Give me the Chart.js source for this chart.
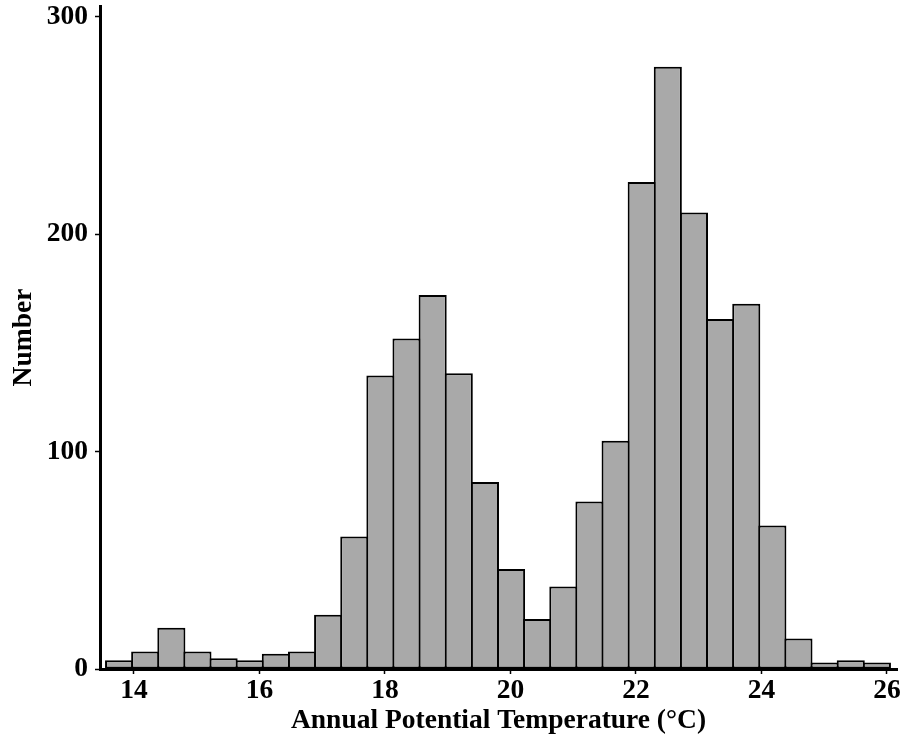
<!DOCTYPE html>
<html>
<head>
<meta charset="utf-8">
<script src="https://cdn.jsdelivr.net/npm/chart.js@4/dist/chart.umd.min.js"></script>
<style>
  html, body { margin: 0; padding: 0; background: #ffffff; }
  #wrap { width: 907px; height: 740px; }
</style>
</head>
<body>
<div id="wrap"><canvas id="chart" width="907" height="740"></canvas></div>
<script>
// Histogram bins: centre of each 0.416 °C wide bin
const binCenters = [
  13.764, 14.180, 14.597, 15.013, 15.430, 15.846, 16.262, 16.679, 17.095, 17.512,
  17.928, 18.344, 18.761, 19.177, 19.594, 20.010, 20.426, 20.843, 21.259, 21.676,
  22.092, 22.508, 22.925, 23.341, 23.758, 24.174, 24.590, 25.007, 25.423, 25.840
];

// Number of sites falling in each bin
const counts = [
  4, 8, 19, 8, 5, 4, 7, 8, 25, 61,
  135, 152, 172, 136, 86, 46, 23, 38, 77, 105,
  224, 277, 210, 161, 168, 66, 14, 3, 4, 3
];

const xTicks = [14, 16, 18, 20, 22, 24, 26];
const yTicks = [0, 100, 200, 300];

const FONT = { family: "'Liberation Serif', 'Times New Roman', serif", size: 27.5, weight: 'bold' };

const axisCommon = {
  grid: {
    display: true,
    drawOnChartArea: false,
    drawTicks: true,
    tickLength: 5,
    tickWidth: 1.5,
    tickColor: '#000000',
    offset: false
  },
  border: { display: true, color: '#000000', width: 3 }
};

new Chart(document.getElementById('chart'), {
  type: 'bar',
  data: {
    datasets: [{
      data: binCenters.map((x, i) => ({ x: x, y: counts[i] })),
      backgroundColor: '#a9a9a9',
      borderColor: '#000000',
      borderWidth: 2,
      borderSkipped: false,
      barPercentage: 1.076,
      categoryPercentage: 1
    }]
  },
  options: {
    responsive: false,
    animation: false,
    layout: { padding: { top: 6, right: 10, left: 0, bottom: 0 } },
    plugins: { legend: { display: false }, tooltip: { enabled: false } },
    scales: {
      x: {
        type: 'linear',
        min: 13.46,
        max: 26.16,
        offset: false,
        ...axisCommon,
        ticks: { color: '#000000', font: FONT, padding: 0, maxRotation: 0, autoSkip: false },
        title: {
          display: true,
          text: 'Annual Potential Temperature (°C)',
          color: '#000000',
          font: FONT,
          padding: { top: 0, bottom: 2.5 }
        },
        afterBuildTicks: s => { s.ticks = xTicks.map(v => ({ value: v })); },
        afterFit: s => { s.height = 71; s.paddingLeft = 0; s.paddingRight = 0; }
      },
      y: {
        type: 'linear',
        min: 0,
        max: 305,
        ...axisCommon,
        ticks: { color: '#000000', font: FONT, padding: 7 },
        title: {
          display: true,
          text: 'Number',
          color: '#000000',
          font: FONT,
          padding: { top: 7, bottom: 0 }
        },
        afterBuildTicks: s => { s.ticks = yTicks.map(v => ({ value: v })); },
        afterFit: s => { s.width = 100; s.paddingTop = 0; s.paddingBottom = 0; }
      }
    }
  }
});
</script>
</body>
</html>
